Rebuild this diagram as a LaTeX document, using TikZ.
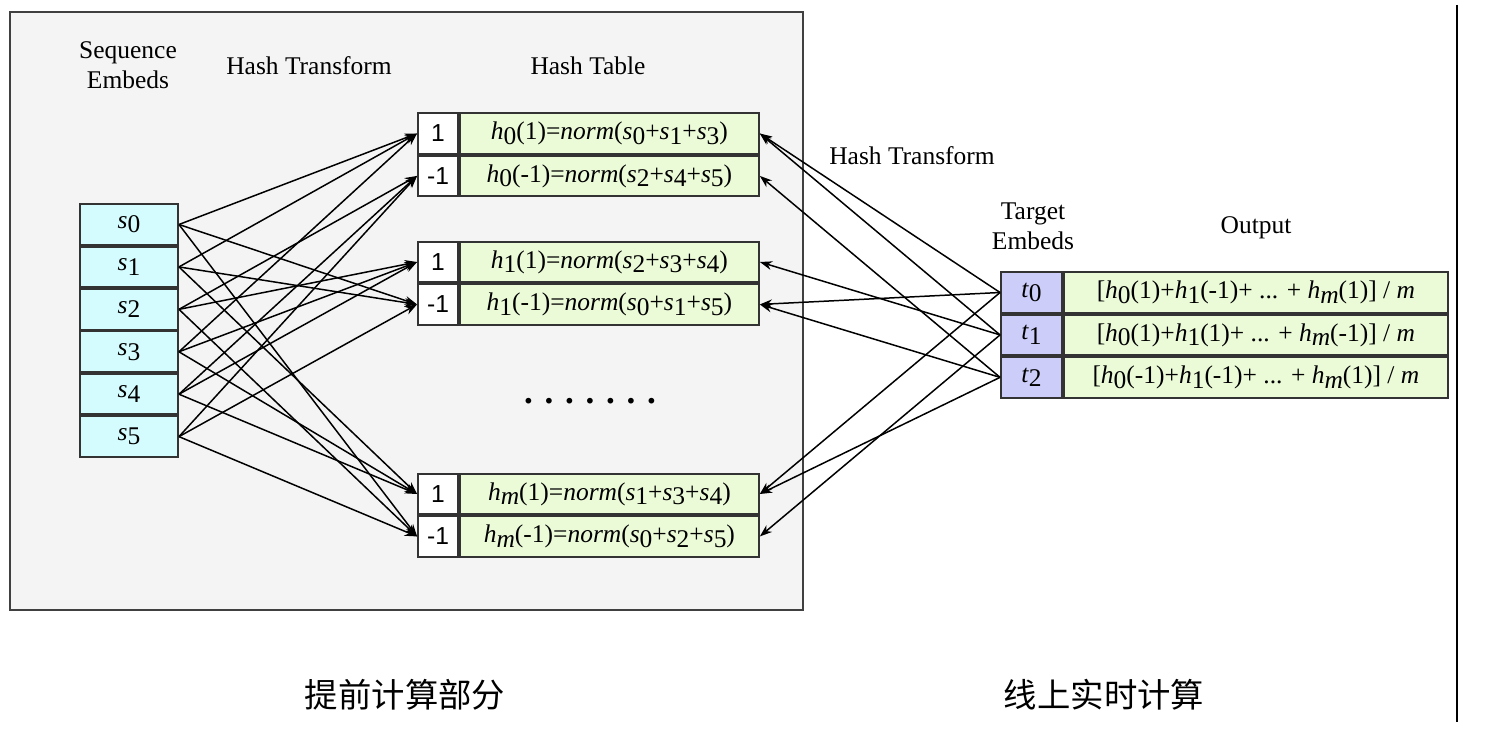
\documentclass[tikz,border=0pt]{standalone}
\usepackage{fontspec}
\setmainfont{Liberation Serif}
\setsansfont{Liberation Sans}
\newfontfamily\cjk{Noto Sans CJK SC}
\usetikzlibrary{arrows.meta,positioning}
\definecolor{panelgray}{RGB}{244,244,244}
\definecolor{seqcyan}{RGB}{212,251,253}
\definecolor{hashgreen}{RGB}{235,250,215}
\definecolor{tgtblue}{RGB}{205,205,250}
% variable with lowered index
\newcommand{\vs}[2]{\textit{#1}\raisebox{-0.4ex}{#2}}
\tikzset{
    %Define standard arrow tip
    >={Stealth[length=7pt,width=5pt]},
    %Define style for cells
    cell/.style={
           rectangle,
           draw=black!80, line width=1.1pt,
           minimum height=0.81cm,
           inner sep=0pt,
           font=\fontsize{14.5}{16}\selectfont},
    seqcell/.style={cell, minimum width=1.96cm, fill=seqcyan},
    keycell/.style={cell, minimum width=0.8cm, fill=white,
           font=\sffamily\fontsize{14}{15}\selectfont},
    valcell/.style={cell, minimum width=5.98cm, fill=hashgreen},
    tgtcell/.style={cell, minimum width=1.22cm, fill=tgtblue},
    outcell/.style={cell, minimum width=7.68cm, fill=hashgreen},
    caption/.style={font=\fontsize{14.5}{17}\selectfont, align=center},
    % Define arrow style
    pil/.style={
           ->,
           line width=0.85pt},
}
\begin{document}
\begin{tikzpicture}[x=0.02cm,y=-0.02cm]
\useasboundingbox (0,0) rectangle (1500,740);
% precomputed part
\draw[fill=panelgray, draw=black!75, line width=1pt] (10,12) rectangle (803,610);
\node[caption] (seqlbl) at (128,65) {Sequence\\Embeds};
\node[caption] (trlbl) at (309,66) {Hash Transform};
\node[caption] (tablbl) at (588,66) {Hash Table};
% sequence embeds
\node[seqcell] (s0) at (129,224.5) {\vs{s}{0}};
\node[seqcell, below=0pt of s0] (s1) {\vs{s}{1}};
\node[seqcell, below=0pt of s1] (s2) {\vs{s}{2}};
\node[seqcell, below=0pt of s2] (s3) {\vs{s}{3}};
\node[seqcell, below=0pt of s3] (s4) {\vs{s}{4}};
\node[seqcell, below=0pt of s4] (s5) {\vs{s}{5}};
% hash table
\node[keycell] (h0p) at (438,133.5) {1};
\node[valcell, right=0pt of h0p] (h0pv) {\vs{h}{0}(1)=\textit{norm}(\vs{s}{0}+\vs{s}{1}+\vs{s}{3})};
\node[keycell, below=0pt of h0p] (h0m) {-1};
\node[valcell, right=0pt of h0m] (h0mv) {\vs{h}{0}(-1)=\textit{norm}(\vs{s}{2}+\vs{s}{4}+\vs{s}{5})};
\node[keycell] (h1p) at (438,262) {1};
\node[valcell, right=0pt of h1p] (h1pv) {\vs{h}{1}(1)=\textit{norm}(\vs{s}{2}+\vs{s}{3}+\vs{s}{4})};
\node[keycell, below=0pt of h1p] (h1m) {-1};
\node[valcell, right=0pt of h1m] (h1mv) {\vs{h}{1}(-1)=\textit{norm}(\vs{s}{0}+\vs{s}{1}+\vs{s}{5})};
\node[font=\bfseries\fontsize{20}{20}\selectfont] (dots) at (590,401) {. . . . . . .};
\node[keycell] (hmp) at (438,494) {1};
\node[valcell, right=0pt of hmp] (hmpv) {\vs{h}{\textit{m}}(1)=\textit{norm}(\vs{s}{1}+\vs{s}{3}+\vs{s}{4})};
\node[keycell, below=0pt of hmp] (hmm) {-1};
\node[valcell, right=0pt of hmm] (hmmv) {\vs{h}{\textit{m}}(-1)=\textit{norm}(\vs{s}{0}+\vs{s}{2}+\vs{s}{5})};
\foreach \s/\h in {0/h0p,0/h1m,0/hmm, 1/h0p,1/h1m,1/hmp, 2/h0m,2/h1p,2/hmm,
                   3/h0p,3/h1p,3/hmp, 4/h0m,4/h1p,4/hmp, 5/h0m,5/h1m,5/hmm}
    \draw[pil] (s\s.east) -- (\h.west);
% online part
\node[caption] (tr2lbl) at (912,156) {Hash Transform};
\node[caption] (tgtlbl) at (1033,226) {Target\\Embeds};
\node[caption] (outlbl) at (1256,228) {Output};
\node[tgtcell] (t0) at (1031.5,292.5) {\vs{t}{0}};
\node[outcell, right=0pt of t0] (o0) {[\vs{h}{0}(1)+\vs{h}{1}(-1)+ ... + \vs{h}{\textit{m}}(1)] / \textit{m}};
\node[tgtcell, below=0pt of t0] (t1) {\vs{t}{1}};
\node[outcell, right=0pt of t1] (o1) {[\vs{h}{0}(1)+\vs{h}{1}(1)+ ... + \vs{h}{\textit{m}}(-1)] / \textit{m}};
\node[tgtcell, below=0pt of t1] (t2) {\vs{t}{2}};
\node[outcell, right=0pt of t2] (o2) {[\vs{h}{0}(-1)+\vs{h}{1}(-1)+ ... + \vs{h}{\textit{m}}(1)] / \textit{m}};
\foreach \t/\h in {0/h0pv,0/h1mv,0/hmpv, 1/h0pv,1/h1pv,1/hmmv, 2/h0mv,2/h1mv,2/hmpv}
    \draw[pil] (t\t.west) -- (\h.east);
% bottom captions and divider
\node[font=\cjk\fontsize{19}{22}\selectfont] (pre) at (405,695) {提前计算部分};
\node[font=\cjk\fontsize{19}{22}\selectfont] (online) at (1104,695) {线上实时计算};
\draw[line width=1.2pt] (1457,5) -- (1457,722);
\end{tikzpicture}
\end{document}
